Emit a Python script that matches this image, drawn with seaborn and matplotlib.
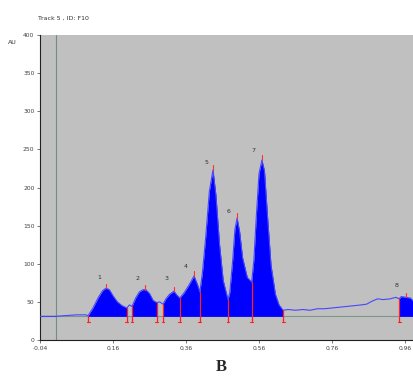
import numpy as np
import pandas as pd
import matplotlib
matplotlib.use("Agg")
import matplotlib.pyplot as plt
import seaborn as sns

# trace (time, AU)
time = [-0.04, 0.0, 0.03, 0.06, 0.085,
        0.092, 0.105, 0.12, 0.132, 0.141, 0.15, 0.16, 0.172, 0.185, 0.198,
        0.205, 0.212,
        0.222, 0.232, 0.242, 0.25, 0.26, 0.27, 0.28,
        0.288, 0.297,
        0.305, 0.315, 0.327, 0.335, 0.343,
        0.355, 0.368, 0.382, 0.392, 0.398,
        0.405, 0.414, 0.424, 0.434, 0.442, 0.452, 0.462, 0.475,
        0.48, 0.488, 0.494, 0.5, 0.507, 0.515, 0.528, 0.54,
        0.546, 0.553, 0.56, 0.568, 0.575, 0.583, 0.593, 0.605, 0.615, 0.626,
        0.64, 0.66, 0.68, 0.70, 0.72, 0.74, 0.76, 0.78, 0.80, 0.82, 0.84,
        0.855, 0.87, 0.885, 0.9, 0.92, 0.935, 0.944,
        0.95, 0.963, 0.975, 0.985]
signal = [31, 31, 32, 33, 33,
          32, 42, 56, 65, 68, 66, 58, 50, 45, 42,
          46, 44,
          55, 63, 66, 66, 61, 52, 49,
          50, 47,
          54, 60, 64, 59, 55,
          62, 72, 84, 72, 63,
          88, 135, 195, 223, 190, 125, 78, 53,
          62, 105, 145, 160, 142, 108, 82, 76,
          105, 165, 218, 236, 222, 165, 98, 60, 46, 39,
          40, 39, 40, 39, 41, 41, 42, 43, 44, 45, 46,
          47, 51, 54, 53, 54, 56, 54,
          57, 56, 55, 50]

baseline = 31
# integrated windows (start, end)
windows = [(0.092, 0.198), (0.212, 0.28), (0.297, 0.626), (0.944, 0.985)]
cuts = [0.092, 0.198, 0.212, 0.28, 0.297, 0.343, 0.398, 0.475, 0.54, 0.626, 0.944]
peak_times = [0.141, 0.248, 0.327, 0.382, 0.434, 0.5, 0.568, 0.963]
peak_labels = ["1", "2", "3", "4", "5", "6", "7", "8"]
label_x = [0.122, 0.228, 0.308, 0.36, 0.415, 0.478, 0.544, 0.938]
label_y = [82, 81, 80, 97, 233, 169, 248, 72]

df = pd.DataFrame({"time": time, "AU": signal})

sns.set_style("white")
fig = plt.figure(figsize=(4.13, 3.76), dpi=100)
ax = fig.add_axes([40 / 413, 1 - 340 / 376, 373 / 413, 305 / 376])
ax.set_facecolor("#c0c0c0")

t = np.array(time)
s = np.array(signal)
for a, b in windows:
    m = (t >= a) & (t <= b)
    ax.fill_between(t[m], baseline, s[m], color="#0000ff", lw=0, zorder=2)

sns.lineplot(data=df, x="time", y="AU", color="#4646ff", lw=0.8, ax=ax, zorder=3)

ax.plot([-0.04, 0.005], [baseline, baseline], color="#303030", lw=0.8, zorder=1)
ax.plot([0.005, 0.985], [baseline, baseline], color="#7a978a", lw=0.8, zorder=1)
ax.axvline(0.005, color="#6f8f80", lw=0.8, zorder=1)

for c in cuts:
    top = np.interp(c, t, s)
    ax.plot([c, c], [24, top], color="#ff2020", lw=0.9, zorder=4)
    ax.plot([c - 0.004, c + 0.004], [24, 24], color="#ff2020", lw=0.8, zorder=4)

for p, lab, lx, ly in zip(peak_times, peak_labels, label_x, label_y):
    top = np.interp(p, t, s)
    ax.plot([p, p], [top, top + 6], color="#ff3030", lw=0.8, zorder=4)
    ax.text(lx, ly, lab, fontsize=4.5, color="#303030", ha="center", va="center")

ax.set_xlim(-0.04, 0.982)
ax.set_ylim(0, 400)
ax.set_xticks([-0.04, 0.16, 0.36, 0.56, 0.76, 0.96])
ax.set_xticklabels(["-0.04", "0.16", "0.36", "0.56", "0.76", "0.96"])
ax.set_yticks(range(0, 401, 50))
ax.tick_params(axis="both", labelsize=4.3, colors="#404040", length=2.5, width=0.5,
               direction="out", bottom=True, left=True, pad=1.5)
ax.set_xlabel("")
ax.set_ylabel("")
for sp in ["top", "right"]:
    ax.spines[sp].set_visible(False)
for sp in ["left", "bottom"]:
    ax.spines[sp].set_color("#202020")
    ax.spines[sp].set_linewidth(0.8)

fig.text(38 / 413, 1 - 18 / 376, "Track 5 , ID: F10", fontsize=4.5, color="#303030", va="center")
fig.text(8 / 413, 1 - 43 / 376, "AU", fontsize=4.5, color="#303030", va="center")
fig.text(221 / 413, 1 - 367 / 376, "B", fontsize=12, fontweight="bold",
         family="Liberation Serif", ha="center", va="center")

fig.savefig("out.png", dpi=100)
